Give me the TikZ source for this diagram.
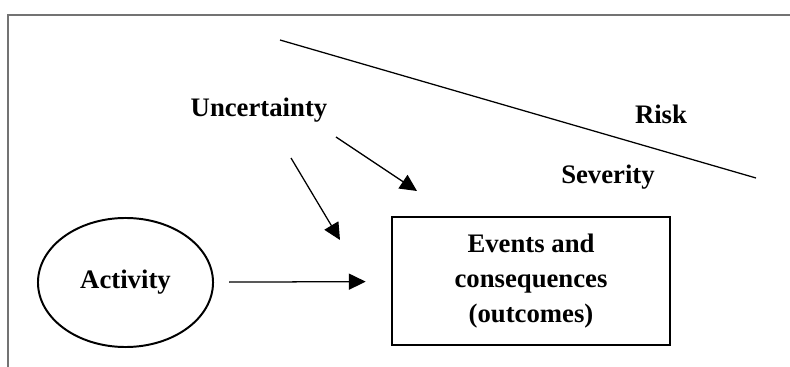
\documentclass[tikz,border=0pt]{standalone}
\usepackage{fontspec}
\setmainfont{Liberation Serif}
\usetikzlibrary{arrows.meta,shapes.geometric}

\begin{document}
\begin{tikzpicture}[x=0.025cm,y=-0.025cm,
	lbl/.style={font=\fontsize{19}{25}\selectfont\bfseries},
	arr/.style={line width=0.9pt,-{Triangle[length=12pt,width=11.5pt]}}]
	%%%%% START %%%%%
	
	\useasboundingbox (0,0) rectangle (790,367);
	\draw[black!55, line width=0.8pt] (8,367) -- (8,15) -- (790,15);
	
	% risk line
	\coordinate (riskA) at (280,40);
	\coordinate (riskB) at (756,178);
	\draw[line width=0.9pt] (riskA) -- (riskB);
	
	\node[lbl] (unc) at (259,110) {Uncertainty};
	\node[lbl] (risk) at (661,114) {Risk};
	\node[lbl] (sev) at (608,177) {Severity};
	
	\node[lbl, ellipse, draw, line width=1.4pt, minimum width=4.375cm, minimum height=3.225cm] (act) at (125.5,282.5) {Activity};
	\node[lbl, rectangle, draw, line width=1.8pt, align=center, minimum width=6.95cm, minimum height=3.2cm] (ev) at (531,281) {Events and\\consequences\\(outcomes)};
	
	\draw[arr, shorten <=10.7pt, shorten >=17.8pt] (act) -- (ev);
	
	% arrows from uncertainty
	\coordinate (uncA) at (291,158);
	\coordinate (uncB) at (340,240);
	\coordinate (uncC) at (336,137);
	\coordinate (uncD) at (417,191);
	\draw[arr] (uncA) -- (uncB);
	\draw[arr] (uncC) -- (uncD);
	
	%%%%% END %%%%%
\end{tikzpicture}
\end{document}
